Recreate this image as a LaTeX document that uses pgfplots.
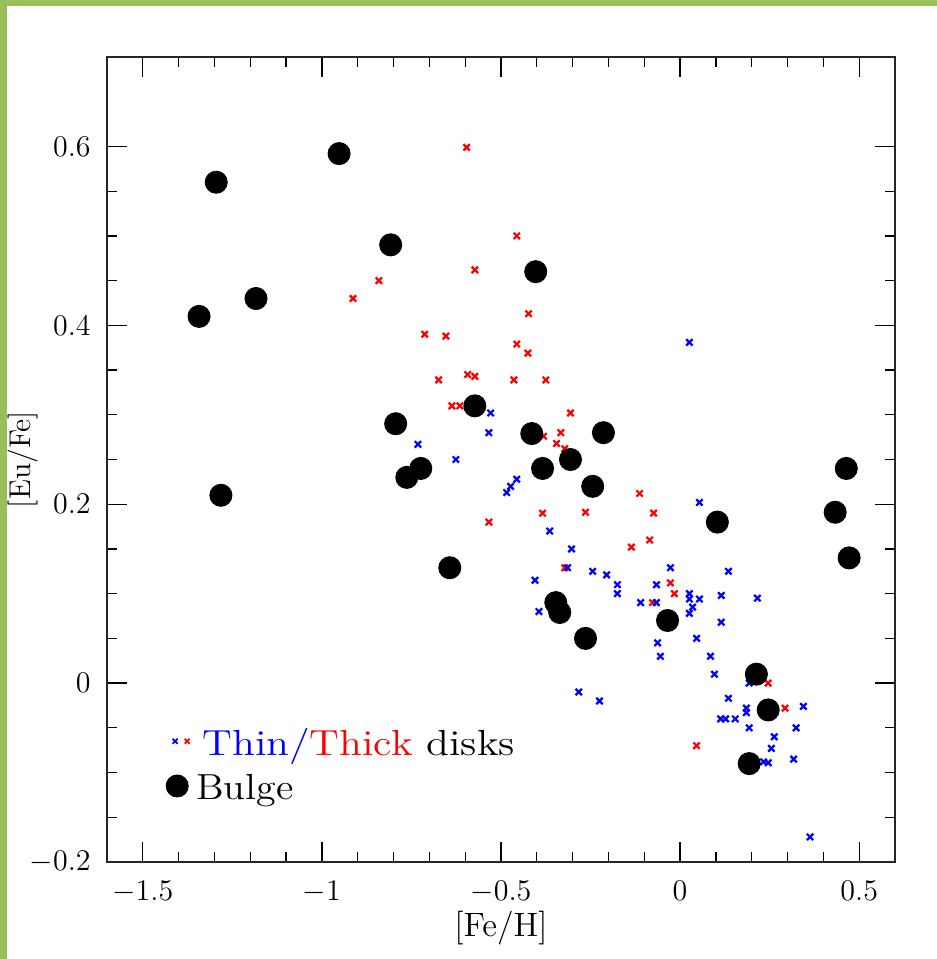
\documentclass[border=0pt]{standalone}
\usepackage{pgfplots}
\pgfplotsset{compat=1.18}
\definecolor{framegreen}{RGB}{155,190,92}
\begin{document}
\begin{tikzpicture}
\useasboundingbox (-42.8pt,-38.8pt) rectangle (332pt,344.8pt);
\begin{axis}[
  at={(0pt,0pt)}, anchor=south west,
  scale only axis,
  width=315.2pt, height=322pt,
  xmin=-1.6, xmax=0.6, ymin=-0.2, ymax=0.7,
  xtick={-1.5,-1,-0.5,0,0.5},
  ytick={-0.2,0,0.2,0.4,0.6},
  minor x tick num=4,
  minor y tick num=3,
  tick align=inside,
  tick pos=both,
  major tick length=8pt,
  minor tick length=4pt,
  every tick/.style={black, line width=0.5pt},
  axis line style={line width=0.6pt, black!85},
  tick label style={font=\fontsize{12.5}{14}\selectfont},
  xticklabel style={yshift=-4pt},
  yticklabel style={xshift=-3pt},
  xlabel={[Fe/H]},
  ylabel={[Eu/Fe]},
  xlabel style={at={(axis description cs:0.5,-0.082)}, anchor=center, font=\fontsize{13.5}{15}\selectfont},
  ylabel style={at={(axis description cs:-0.107,0.5)}, anchor=center, font=\fontsize{12}{13}\selectfont},
  clip=false,
]
% Thick disk (red)
\addplot[only marks, mark=x, mark size=1.8pt, red, line width=0.9pt] coordinates {
(-0.596,0.599) (-0.456,0.500) (-0.573,0.462) (-0.423,0.413) (-0.713,0.390)
(-0.654,0.388) (-0.913,0.430) (-0.841,0.450) (-0.674,0.339) (-0.593,0.345)
(-0.573,0.343) (-0.464,0.339) (-0.375,0.339) (-0.456,0.379) (-0.425,0.369)
(-0.637,0.310) (-0.615,0.310) (-0.306,0.302) (-0.333,0.280) (-0.345,0.268)
(-0.381,0.276) (-0.322,0.262) (-0.113,0.212) (-0.384,0.190) (-0.264,0.191)
(-0.074,0.190) (-0.085,0.160) (-0.136,0.152) (-0.534,0.180) (-0.322,0.129)
(-0.027,0.112) (-0.016,0.100) (-0.077,0.090) (0.046,-0.070) (0.246,0.000)
(0.293,-0.028)
};
% Thin disk (blue)
\addplot[only marks, mark=x, mark size=1.8pt, blue, line width=0.9pt] coordinates {
(0.026,0.381) (-0.529,0.302) (-0.534,0.280) (-0.732,0.267) (-0.626,0.250)
(-0.456,0.228) (-0.473,0.220) (-0.484,0.213) (-0.364,0.170) (-0.303,0.150)
(-0.314,0.129) (-0.244,0.125) (-0.205,0.121) (-0.405,0.115) (-0.175,0.110)
(-0.175,0.100) (-0.394,0.080) (0.054,0.202) (-0.027,0.129) (0.135,0.125)
(-0.066,0.110) (0.026,0.100) (0.026,0.094) (0.054,0.094) (0.035,0.085)
(0.026,0.078) (0.115,0.098) (0.216,0.095) (-0.110,0.090) (-0.066,0.090)
(0.115,0.068) (-0.063,0.045) (-0.055,0.030) (0.046,0.050) (0.085,0.030)
(0.096,0.010) (0.193,0.000) (-0.283,-0.010) (-0.225,-0.020) (0.135,-0.017)
(0.185,-0.028) (0.185,-0.033) (0.344,-0.026) (0.113,-0.040) (0.127,-0.040)
(0.154,-0.040) (0.193,-0.050) (0.324,-0.050) (0.263,-0.060) (0.255,-0.073)
(0.317,-0.085) (0.233,-0.088) (0.246,-0.089) (0.363,-0.172)
};
% Bulge (black)
\addplot[only marks, mark=*, mark size=4.4pt, black] coordinates {
(-1.295,0.560) (-0.952,0.592) (-0.808,0.490) (-1.184,0.430) (-1.343,0.410)
(-1.282,0.210) (-0.403,0.460) (-0.573,0.310) (-0.794,0.290) (-0.724,0.240)
(-0.763,0.230) (-0.414,0.279) (-0.384,0.240) (-0.306,0.250) (-0.214,0.280)
(-0.244,0.220) (-0.643,0.129) (-0.347,0.090) (-0.336,0.079) (-0.264,0.050)
(-0.035,0.070) (0.104,0.180) (0.433,0.191) (0.464,0.240) (0.472,0.140)
(0.213,0.010) (0.246,-0.030) (0.193,-0.090)
};
% legend symbols
\addplot[only marks, mark=x, mark size=1.4pt, blue, line width=0.7pt] coordinates {(-1.410,-0.065)};
\addplot[only marks, mark=x, mark size=1.4pt, red, line width=0.7pt] coordinates {(-1.376,-0.065)};
\addplot[only marks, mark=*, mark size=4.4pt, black] coordinates {(-1.404,-0.115)};
\node[anchor=base west, inner sep=0pt, font=\fontsize{14.5}{16}\selectfont] at (axis cs:-1.335,-0.0804)
  {\scalebox{1.16}[1]{\textcolor{blue}{Thin/}\textcolor{red}{Thick} disks}};
\node[anchor=base west, inner sep=0pt, font=\fontsize{14.5}{16}\selectfont] at (axis cs:-1.352,-0.1306) {\scalebox{1.1}[1]{Bulge}};
\end{axis}
\fill[framegreen] (-42.8pt,-38.8pt) rectangle (-40pt,344.8pt);
\fill[framegreen] (-42.8pt,342.2pt) rectangle (332pt,344.8pt);
\end{tikzpicture}
\end{document}
